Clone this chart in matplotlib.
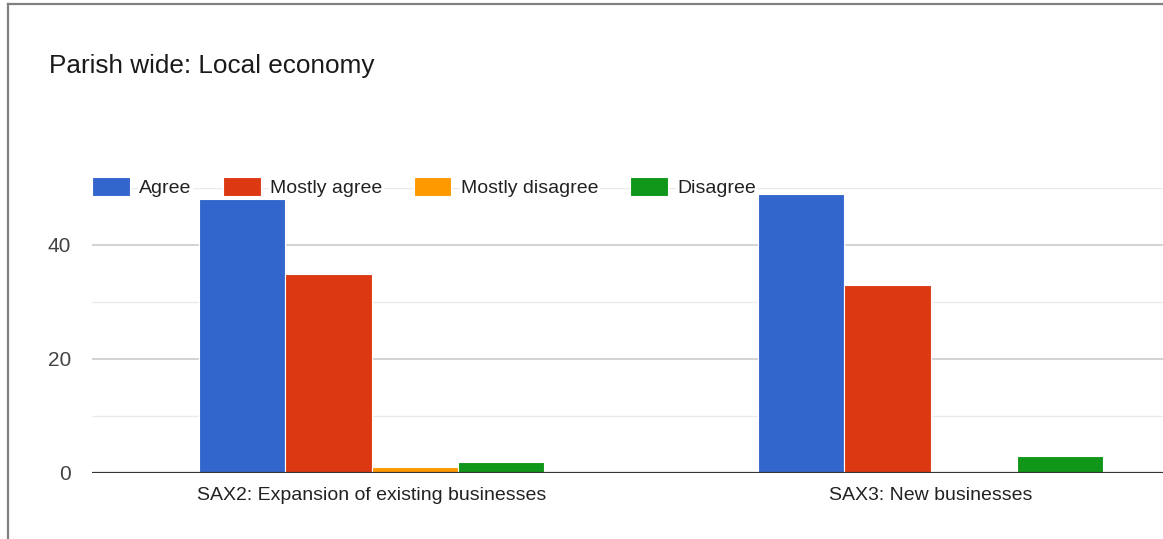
import matplotlib.pyplot as plt
from matplotlib.lines import Line2D
import numpy as np

plt.rcParams['font.family'] = ['Liberation Sans', 'DejaVu Sans']

# survey data
categories = ['SAX2: Expansion of existing businesses', 'SAX3: New businesses']
series_names = ['Agree', 'Mostly agree', 'Mostly disagree', 'Disagree']
agree = [48, 49]
mostly_agree = [35, 33]
mostly_disagree = [1, 0]
disagree = [2, 3]
series_values = [agree, mostly_agree, mostly_disagree, disagree]
colors = ['#3366cc', '#dc3912', '#ff9900', '#109618']

W, H = 1163, 539
fig = plt.figure(figsize=(W / 100, H / 100), dpi=100)
ax = fig.add_axes([92 / W, 1 - 473 / H, (1210 - 92) / W, (473 - 188) / H])

x = np.arange(len(categories))
bw = 0.154
for i, (name, vals) in enumerate(zip(series_names, series_values)):
    ax.bar(x + (i - 1.5) * bw, vals, bw, color=colors[i], label=name,
           edgecolor='white', linewidth=0.8, zorder=3)

ax.set_xlim(-0.5, 1.5)
ax.set_ylim(0, 50)
ax.set_yticks([0, 20, 40])
ax.set_yticks([10, 30, 50], minor=True)
ax.grid(axis='y', which='major', color='#cccccc', linewidth=1.2, zorder=0)
ax.grid(axis='y', which='minor', color='#ebebeb', linewidth=1.0, zorder=0)
ax.axhline(0, color='#333333', linewidth=1.6, zorder=4)
for s in ax.spines.values():
    s.set_visible(False)
ax.tick_params(axis='both', which='both', length=0)
ax.tick_params(axis='y', labelsize=15, labelcolor='#444444', pad=15)
ax.tick_params(axis='x', labelsize=14, labelcolor='#222222', pad=10)
ax.set_xticks(x)
ax.set_xticklabels(categories)

leg = ax.legend(loc='center left', bbox_to_anchor=(92 / W, 1 - 187 / H),
                bbox_transform=fig.transFigure, ncol=4, frameon=False,
                fontsize=14, handlelength=1.94, handleheight=1.1,
                handletextpad=0.5, columnspacing=1.6, borderpad=0,
                borderaxespad=0)
for t in leg.get_texts():
    t.set_color('#222222')
    t.set_bbox(dict(facecolor='white', edgecolor='none', pad=1))

fig.text(49 / W, 1 - 73 / H, 'Parish wide: Local economy', fontsize=18.8,
         color='#1a1a1a', ha='left', va='baseline')

# border of the chart card
fig.add_artist(Line2D([8 / W, 8 / W], [0, 1 - 4 / H], color='#808080', linewidth=1.6))
fig.add_artist(Line2D([8 / W, 1], [1 - 4 / H, 1 - 4 / H], color='#808080', linewidth=1.6))

fig.savefig('out.png', dpi=100)
